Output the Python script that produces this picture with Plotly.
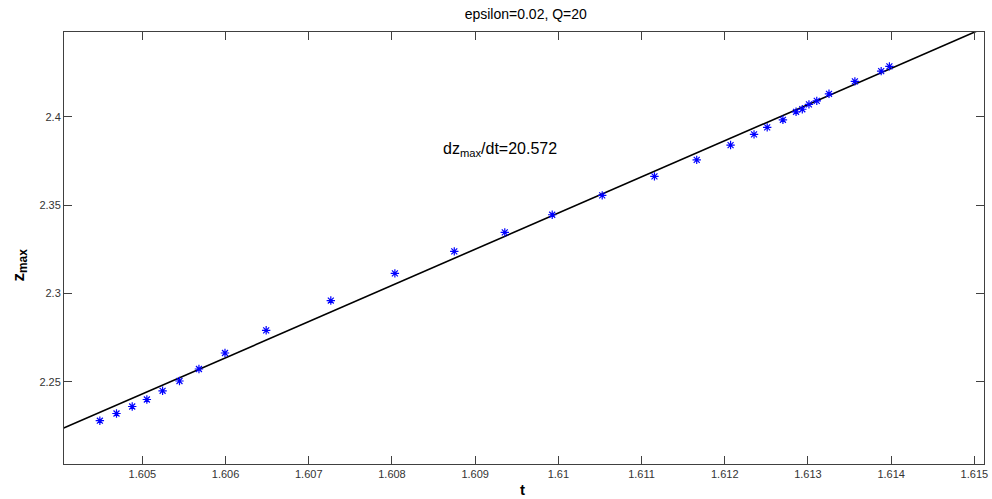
import plotly.graph_objects as go

# measured points (t, z_max)
t = [1.604489, 1.604689, 1.604878, 1.605054, 1.605243, 1.605446, 1.605680,
     1.605993, 1.606488, 1.607265, 1.608035, 1.608749, 1.609356, 1.609926,
     1.610527, 1.611155, 1.611663, 1.612070, 1.612352, 1.612510, 1.612699,
     1.612857, 1.612932, 1.613012, 1.613106, 1.613253, 1.613564, 1.613880,
     1.613979]
zmax = [2.22792, 2.23200, 2.23596, 2.23992, 2.24484, 2.25039, 2.25718,
        2.26624, 2.27909, 2.29596, 2.31136, 2.32381, 2.33456, 2.34453,
        2.35551, 2.36626, 2.37560, 2.38398, 2.39004, 2.39400, 2.39830,
        2.40283, 2.40425, 2.40702, 2.40900, 2.41302, 2.42004, 2.42587,
        2.42853]

# linear fit line end points
t_fit = [1.6040, 1.6152]
z_fit = [2.2226, 2.4520]

xticks = [1.605, 1.606, 1.607, 1.608, 1.609, 1.61, 1.611, 1.612, 1.613, 1.614, 1.615]
xlabels = ['1.605', '1.606', '1.607', '1.608', '1.609', '1.61', '1.611', '1.612', '1.613', '1.614', '1.615']
yticks = [2.25, 2.3, 2.35, 2.4]
ylabels = ['2.25', '2.3', '2.35', '2.4']

trace1 = go.Scatter(x=t, y=zmax, mode='markers', name='z_max',
                    marker=dict(symbol='asterisk-open', size=7, color='blue',
                                line=dict(color='blue', width=1.2)))
trace2 = go.Scatter(x=t_fit, y=z_fit, mode='lines', name='fit',
                    line=dict(color='black', width=1.6))

axis_style = dict(showline=True, linewidth=1, linecolor='#404040', mirror='ticks',
                  ticks='inside', ticklen=8, tickcolor='#404040', showgrid=False,
                  zeroline=False, ticklabeloverflow='allow',
                  tickfont=dict(family='Liberation Sans', size=11, color='#333333'))

lay = go.Layout(
    title=dict(text='epsilon=0.02, Q=20', x=0.530, xanchor='center', y=0.972, yanchor='middle',
               font=dict(family='Liberation Sans', size=14, color='black')),
    xaxis=dict(range=[1.604058, 1.615116], tickvals=xticks, ticktext=xlabels, **axis_style),
    yaxis=dict(range=[2.2034, 2.4480], tickvals=yticks, ticktext=ylabels, **axis_style),
    margin=dict(l=64, r=4, t=32, b=35),
    width=992, height=499,
    paper_bgcolor='white', plot_bgcolor='white',
    showlegend=False,
    annotations=[
        dict(text='dz<sub>max</sub>/dt=20.572', xref='paper', yref='paper', x=0.474, y=0.727,
             xanchor='center', yanchor='middle', showarrow=False,
             font=dict(family='Liberation Sans', size=16, color='black')),
        dict(text='<b>z<sub>max</sub></b>', xref='paper', yref='paper', x=-0.0476, y=0.46,
             xanchor='center', yanchor='middle', textangle=-90, showarrow=False,
             font=dict(family='Liberation Sans', size=17, color='black')),
        dict(text='<b>t</b>', xref='paper', yref='paper', x=0.498, y=-0.058,
             xanchor='center', yanchor='middle', showarrow=False,
             font=dict(family='Liberation Sans', size=15, color='black')),
    ],
)

fig = go.Figure(data=[trace2, trace1], layout=lay)
# drop the default 8px body margin so the figure sits at the window's corner
fig.write_html('out.html', config={'displayModeBar': False},
               post_script="document.body.style.margin='0';")
